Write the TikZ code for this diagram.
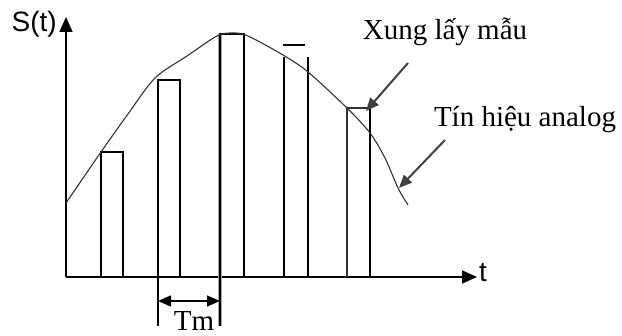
\documentclass[tikz,border=0pt]{standalone}
\usepackage{fontspec}
\setmainfont{Liberation Serif}
\newfontfamily\arialfont{Liberation Sans}
\usetikzlibrary{arrows.meta}
\tikzset{
  axis/.style={line width=1.8pt,-{Triangle[length=15pt,width=13pt]}},
  pulsethin/.style={line width=1.2pt},
  pulsethick/.style={line width=2.4pt},
  signal/.style={line width=1.1pt,draw=black!80},
  callout/.style={line width=2pt,draw=black!75,-{Triangle[length=13pt,width=11pt]},fill=black!75},
  lbl/.style={inner sep=0pt,font=\fontsize{29}{32}\selectfont},
  sanslbl/.style={inner sep=0pt,font=\arialfont\fontsize{28}{31}\selectfont},
}
\begin{document}
\begin{tikzpicture}[x=1pt,y=-1pt]
\useasboundingbox (0,0) rectangle (622,336);
% axes
\coordinate (O) at (66,277);
\coordinate (ytop) at (66,17);
\coordinate (xend) at (477,277);
\draw[axis] (O) -- (ytop);
\draw[axis] (O) -- (xend);
\node[sanslbl,anchor=east] (S) at (57,24) {S(t)};
\node[sanslbl,anchor=west] (tl) at (479,273) {t};
% pulse 1
\draw[pulsethin] (101,277) -- (101,152) -- (123,152) -- (123,277);
% pulse 2
\draw[pulsethin] (158,326) -- (158,80) -- (180,80) -- (180,277);
% pulse 3
\draw[line width=4pt,draw=black!35] (220,326) -- (220,34);
\draw[line width=1.3pt] (220,326) -- (220,34) -- (244,34) -- (244,277);
% pulse 4
\draw[pulsethick] (284,277) -- (284,57);
\draw[pulsethick] (308,277) -- (308,57);
\draw[line width=1.4pt] (283,45) -- (305,45);
% pulse 5
\draw[line width=1.1pt,draw=black!80] (347,277) -- (347,108) -- (370,108);
\draw[pulsethick] (370,277) -- (370,107);
% analog signal
\draw[signal] plot[smooth,tension=0.5] coordinates {(66,203) (101,152) (128,114) (155,78) (187,56) (217,36) (233,33) (248,36) (283,55) (308,72) (347,108) (370,133) (385,158) (398,188) (408,205)};
% callouts
\node[lbl] (xung) at (445,32) {Xung lấy mẫu};
\node[lbl] (tin) at (525,120) {Tín hiệu analog};
\coordinate (xs) at (408,63);
\coordinate (xe) at (366,111);
\coordinate (ts) at (445,140);
\coordinate (te) at (399,188);
\draw[callout] (xs) -- (xe);
\draw[callout] (ts) -- (te);
% Tm
\coordinate (ta) at (158,301);
\coordinate (tb) at (220,301);
\draw[line width=1.5pt,{Triangle[length=13pt,width=11pt]}-{Triangle[length=13pt,width=11pt]}] (ta) -- (tb);
\node[lbl,anchor=north] (Tm) at (194,311) {Tm};
\end{tikzpicture}
\end{document}
